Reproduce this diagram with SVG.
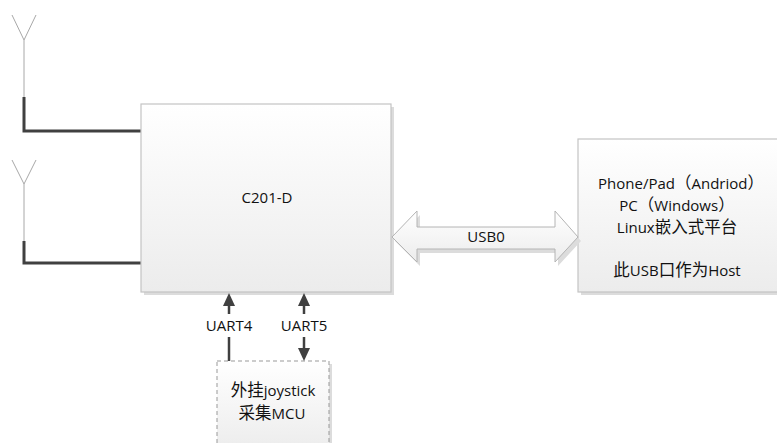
<svg xmlns="http://www.w3.org/2000/svg" width="777" height="443" viewBox="0 0 777 443">
<defs>
<linearGradient id="g" x1="0" y1="0" x2="0" y2="1">
<stop offset="0" stop-color="#ffffff"/>
<stop offset="1" stop-color="#ececec"/>
</linearGradient>
</defs>
<style>
.box{fill:url(#g);stroke:#c4c4c4;stroke-width:1.2}
.shadow{fill:#dcdcdc}
.t{font-family:"Open Sans","Noto Sans CJK SC",sans-serif;font-size:15px;fill:#111;text-anchor:middle}
.c{font-size:16.5px}
.thin{stroke:#a8a8a8;stroke-width:1;fill:none}
.thick{stroke:#404040;stroke-width:3;fill:none}
.conn{stroke:#404040;stroke-width:2.5;fill:none}
</style>
<g id="antenna1">
<path class="thin" d="M12,15 L24,40 L36,15 M24,40 L24,97"/>
<path class="thick" d="M24,97 L24,131 L141,131"/>
</g>
<g id="antenna2">
<path class="thin" d="M12,160 L24,184 L36,160 M24,184 L24,241"/>
<path class="thick" d="M24,241 L24,263 L141,263"/>
</g>
<g id="c201d">
<rect class="shadow" x="144" y="107" width="250" height="188"/>
<rect class="box" x="141" y="104" width="250" height="188"/>
<text class="t" x="267" y="203">C201-D</text>
</g>
<g id="host">
<rect class="shadow" x="581" y="142" width="200" height="153"/>
<rect class="box" x="578" y="139" width="200" height="153"/>
<text class="t" x="681" y="189">Phone/Pad<tspan class="c">（</tspan>Andriod<tspan class="c">）</tspan></text>
<text class="t" x="677" y="211">PC<tspan class="c">（</tspan>Windows<tspan class="c">）</tspan></text>
<text class="t" x="677" y="233">Linux<tspan class="c">嵌入式平台</tspan></text>
<text class="t" x="677" y="276"><tspan class="c">此</tspan>USB<tspan class="c">口作为</tspan>Host</text>
</g>
<g id="joystick">
<rect class="shadow" x="220" y="364" width="112" height="90"/>
<rect x="217" y="361" width="112" height="90" fill="url(#g)" stroke="#999" stroke-width="1" stroke-dasharray="4,3"/>
<text class="t" x="273" y="396"><tspan class="c">外挂</tspan>joystick</text>
<text class="t" x="272" y="419"><tspan class="c">采集</tspan>MCU</text>
</g>
<g id="connectors">
<path d="M395,241 L420,215 L420,231 L558,231 L558,215 L581,241 L558,266 L558,253 L420,253 L420,266 Z" fill="#dcdcdc"/>
<path d="M392,237 L417,211 L417,227 L555,227 L555,211 L578,237 L555,262 L555,249 L417,249 L417,262 Z" fill="url(#g)" stroke="#b4b4b4" stroke-width="1"/>
<text class="t" x="486" y="242">USB0</text>
<path class="conn" d="M229,314 L229,305"/>
<path d="M229,293 L235,306 L223,306 Z" fill="#404040"/>
<path class="conn" d="M229,337 L229,361"/>
<text class="t" x="229" y="331">UART4</text>
<path class="conn" d="M304,314 L304,305"/>
<path d="M304,293 L310,306 L298,306 Z" fill="#404040"/>
<path class="conn" d="M304,337 L304,349"/>
<path d="M304,361 L310,348 L298,348 Z" fill="#404040"/>
<text class="t" x="304" y="331">UART5</text>
</g>
</svg>
